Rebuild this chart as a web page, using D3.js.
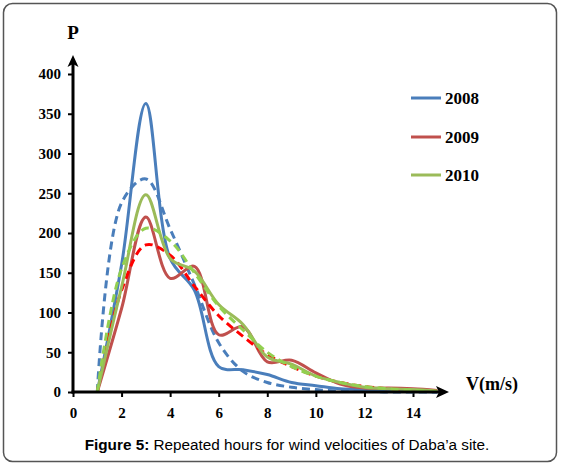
<!DOCTYPE html>
<html><head><meta charset="utf-8">
<script src="https://cdn.jsdelivr.net/npm/d3@7"></script>
<style>
html,body{margin:0;padding:0;background:#fff;}
svg{display:block;}
</style></head>
<body>
<script>
// ---- data ----
const velocities = [1,2,3,4,5,6,7,8,9,10,11,12,13,14,15];
const measured2008 = [0,160,363,168,128,32,28,22,12,8,4,3,2,1,0];
const fitted2008   = [0,238,268,205,135,62,26,12,6,3,1,1,0,0,0];
const measured2009 = [0,105,220,143,158,72,82,38,40,24,10,5,5,4,2];
const fitted2009   = [0,128,185,172,133,96,70,47,32,20,12,7,4,2,1];
const measured2010 = [0,132,248,168,152,110,85,44,35,20,12,6,4,3,1];
const fitted2010   = [0,155,206,190,150,108,78,50,32,20,12,7,4,2,1];
const xTicks = [0,2,4,6,8,10,12,14];
const yTicks = [0,50,100,150,200,250,300,350,400];
const legendYears = ["2008","2009","2010"];
const caption = ["Figure 5:", " Repeated hours for wind velocities of Daba\u2019a site."];

const W = 563, H = 466;
const svg = d3.select("body").append("svg").attr("width", W).attr("height", H);

// frame
svg.append("rect").attr("x",3.5).attr("y",3.5).attr("width",553).attr("height",458)
  .attr("rx",9).attr("fill","#fff").attr("stroke","#555").attr("stroke-width",1.5);

const x = d3.scaleLinear().domain([0,14]).range([73,413]);
const y = d3.scaleLinear().domain([0,400]).range([392,74]);

const serif = "'Liberation Serif','Times New Roman',serif";

// y axis ticks/labels
const ya = svg.append("g").attr("transform","translate(73,0)")
  .call(d3.axisLeft(y).tickValues(yTicks).tickSize(5).tickPadding(7));
ya.select(".domain").remove();
ya.selectAll(".tick line").attr("stroke","#000").attr("stroke-width",2);
ya.selectAll(".tick text").attr("font-family",serif).attr("font-weight","bold")
  .attr("font-size",15).attr("fill","#000");

// x axis ticks/labels
const xa = svg.append("g").attr("transform","translate(0,392)")
  .call(d3.axisBottom(x).tickValues(xTicks).tickSize(5).tickPadding(10));
xa.select(".domain").remove();
xa.selectAll(".tick line").attr("stroke","#000").attr("stroke-width",2);
xa.selectAll(".tick text").attr("font-family",serif).attr("font-weight","bold")
  .attr("font-size",15).attr("fill","#000");

// series
const series = [
  {v: measured2008, c:"#4A7EBB", d:null},
  {v: fitted2008,   c:"#4A7EBB", d:"8,5"},
  {v: measured2009, c:"#C0504D", d:null},
  {v: fitted2009,   c:"#FF0000", d:"8,5"},
  {v: measured2010, c:"#9BBB59", d:null},
  {v: fitted2010,   c:"#92D050", d:"8,5"}
];
const line = d3.line().x((d,i)=>x(velocities[i])).y(d=>y(d)).curve(d3.curveCatmullRom.alpha(0.5));
series.forEach(s=>{
  svg.append("path").datum(s.v).attr("d",line).attr("fill","none")
    .attr("stroke",s.c).attr("stroke-width",3).attr("stroke-linejoin","round")
    .attr("stroke-dasharray",s.d);
});

// axis lines with arrows
svg.append("line").attr("x1",x(0)).attr("x2",x(0)).attr("y1",y(0)+1.5).attr("y2",64)
  .attr("stroke","#000").attr("stroke-width",3);
svg.append("path").attr("d",`M${x(0)},55 L${x(0)-5.5},67 L${x(0)},64 L${x(0)+5.5},67 Z`).attr("fill","#000");
svg.append("line").attr("x1",x(0)-1.5).attr("x2",440).attr("y1",y(0)).attr("y2",y(0))
  .attr("stroke","#000").attr("stroke-width",3);
svg.append("path").attr("d",`M449,${y(0)} L436,${y(0)-6} L439,${y(0)} L436,${y(0)+6} Z`).attr("fill","#000");

// axis titles
svg.append("text").attr("x",73).attr("y",39).attr("text-anchor","middle")
  .attr("font-family",serif).attr("font-weight","bold").attr("font-size",19).text("P");
svg.append("text").attr("x",466).attr("y",390)
  .attr("font-family",serif).attr("font-weight","bold").attr("font-size",18).text("V(m/s)");

// legend
const colors = ["#4A7EBB","#C0504D","#9BBB59"];
const ly = [98,137,175];
legendYears.forEach((t,i)=>{
  svg.append("line").attr("x1",411).attr("x2",441).attr("y1",ly[i]).attr("y2",ly[i])
    .attr("stroke",colors[i]).attr("stroke-width",3);
  svg.append("text").attr("x",445).attr("y",ly[i]+6).attr("font-family",serif)
    .attr("font-weight","bold").attr("font-size",17).text(t);
});

// caption
const cap = svg.append("text").attr("x",287).attr("y",450).attr("text-anchor","middle")
  .attr("font-family","'Liberation Sans',Arial,sans-serif").attr("font-size",15.3).attr("fill","#000");
cap.append("tspan").attr("font-weight","bold").text(caption[0]);
cap.append("tspan").text(caption[1]);
</script>
</body></html>
